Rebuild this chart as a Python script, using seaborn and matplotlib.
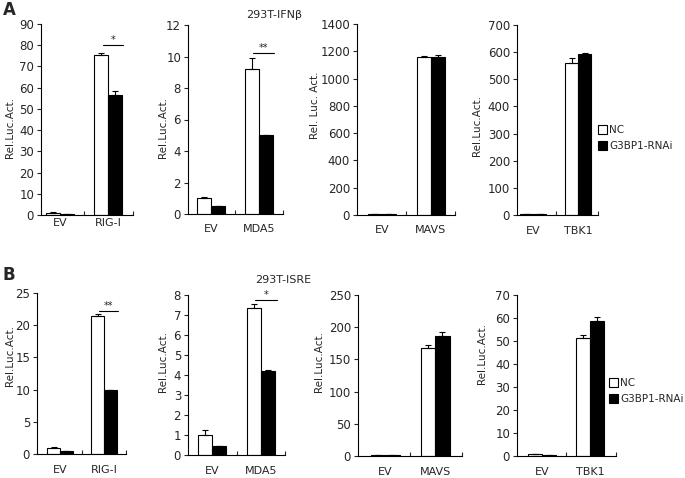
import pandas as pd
import matplotlib.pyplot as plt
import seaborn as sns

# Werte
groups = ['NC', 'G3BP1-RNAi']

# 293T-IFNb
ifnb_constructs = ['RIG-I', 'MDA5', 'MAVS', 'TBK1']
ifnb_nc = [[1.0, 75.5], [1.0, 9.2], [5.0, 1160.0], [3.0, 560.0]]
ifnb_rnai = [[0.5, 56.5], [0.5, 5.0], [4.0, 1155.0], [2.0, 592.0]]
ifnb_nc_err = [[0.3, 1.0], [0.05, 0.7], [1.0, 5.0], [1.0, 18.0]]
ifnb_rnai_err = [[0.1, 2.0], [0.02, 0.02], [1.0, 15.0], [1.0, 4.0]]
ifnb_ymax = [90, 12, 1400, 700]
ifnb_ystep = [10, 2, 200, 100]
ifnb_sig = [('*', 80.0), ('**', 10.2), None, None]

# 293T-ISRE
isre_constructs = ['RIG-I', 'MDA5', 'MAVS', 'TBK1']
isre_nc = [[1.0, 21.5], [1.0, 7.35], [1.0, 167.0], [0.8, 51.5]]
isre_rnai = [[0.45, 9.9], [0.45, 4.2], [0.8, 186.0], [0.3, 58.5]]
isre_nc_err = [[0.15, 0.25], [0.25, 0.2], [0.2, 6.0], [0.2, 1.2]]
isre_rnai_err = [[0.02, 0.02], [0.02, 0.04], [0.2, 6.0], [0.1, 2.0]]
isre_ymax = [25, 8, 250, 70]
isre_ystep = [5, 1, 50, 10]
isre_sig = [('**', 22.2), ('*', 7.75), None, None]

W, H = 685, 478

# Layout in Pixel: (links, rechts, oben, unten, xmin, xmax, ylabel_x, ylabel_y, xpad)
layout_a = [
    (41, 133, 24, 215, -0.40, 1.52, 10, 128, 2),
    (188, 283, 25, 214, -0.48, 1.50, 163, 128, 7),
    (357, 455, 24, 215, -0.51, 1.49, 315, 105, 7),
    (517, 598, 25, 215, -0.36, 1.44, 477, 125, 8),
]
layout_b = [
    (37, 126, 293, 454, -0.52, 1.50, 10, 356, 8),
    (188, 285, 295, 455, -0.49, 1.49, 163, 362, 8),
    (358, 462, 295, 456, -0.54, 1.54, 319, 362, 8),
    (517, 616, 295, 456, -0.52, 1.54, 482, 354, 8),
]

sns.set_style('ticks')
plt.rcParams['font.family'] = ['DejaVu Sans']

fig = plt.figure(figsize=(W / 100, H / 100), dpi=100)


def draw_panel(box, construct, nc, rnai, nc_err, rnai_err, ymax, ystep, sig,
               ylabel, legend_pos=None):
    l, r, t, b, xmin, xmax, lx, ly, xpad = box
    ax = fig.add_axes([l / W, 1 - b / H, (r - l) / W, (b - t) / H])
    df = pd.DataFrame({
        'Konstrukt': ['EV', construct] * 2,
        'Gruppe': ['NC', 'NC', 'G3BP1-RNAi', 'G3BP1-RNAi'],
        'Wert': nc + rnai,
    })
    sns.barplot(data=df, x='Konstrukt', y='Wert', hue='Gruppe',
                order=['EV', construct], hue_order=groups,
                palette={'NC': 'white', 'G3BP1-RNAi': 'black'},
                edgecolor='black', linewidth=0.8, width=0.58,
                errorbar=None, legend=legend_pos is not None, ax=ax)
    # Fehlerbalken nur nach oben
    for cont, errs in zip(ax.containers, [nc_err, rnai_err]):
        for bar, e in zip(cont, errs):
            xc = bar.get_x() + bar.get_width() / 2
            ax.errorbar(xc, bar.get_height(), yerr=[[0], [e]], color='black',
                        capsize=2.5, elinewidth=0.8, capthick=0.8, fmt='none')
    if sig is not None:
        star, yv = sig
        bw = ax.containers[0][1].get_width()
        x0 = 1 - bw * 0.4
        x1 = 1 + bw * 1.1
        ax.plot([x0, x1], [yv, yv], color='black', lw=0.8)
        ax.text((x0 + x1) / 2, yv, star, ha='center', va='bottom', fontsize=7)

    ax.set_xlim(xmin, xmax)
    ax.set_ylim(0, ymax)
    ax.set_yticks(range(0, ymax + 1, ystep))
    ax.set_xticks([0, 1])
    ax.set_xticklabels(['EV', construct], fontsize=8)
    ax.set_xticks([0.5, xmax], minor=True)
    ax.tick_params(axis='x', which='major', length=0, pad=xpad)
    ax.tick_params(axis='x', which='minor', direction='in', length=3, width=0.8)
    ax.tick_params(axis='y', direction='out', length=3, width=0.8, labelsize=8.5, pad=2)
    ax.set_xlabel('')
    ax.set_ylabel('')
    for s in ['top', 'right']:
        ax.spines[s].set_visible(False)
    for s in ['left', 'bottom']:
        ax.spines[s].set_linewidth(0.8)
        ax.spines[s].set_color('black')
    fig.text(lx / W, 1 - ly / H, ylabel, rotation=90, ha='center', va='center', fontsize=7.5)
    if legend_pos is not None:
        handles, labels = ax.get_legend_handles_labels()
        ax.legend(handles, labels, loc='center left', frameon=False,
                  bbox_to_anchor=(legend_pos[0] / W, 1 - legend_pos[1] / H),
                  bbox_transform=fig.transFigure, fontsize=7.5,
                  handlelength=0.8, handleheight=1.0, handletextpad=0.25,
                  labelspacing=0.6, borderaxespad=0)
    return ax


for i in range(4):
    lab = 'Rel. Luc. Act.' if i == 2 else 'Rel.Luc.Act.'
    draw_panel(layout_a[i], ifnb_constructs[i], ifnb_nc[i], ifnb_rnai[i],
               ifnb_nc_err[i], ifnb_rnai_err[i], ifnb_ymax[i], ifnb_ystep[i],
               ifnb_sig[i], lab, legend_pos=(594, 138) if i == 3 else None)
    draw_panel(layout_b[i], isre_constructs[i], isre_nc[i], isre_rnai[i],
               isre_nc_err[i], isre_rnai_err[i], isre_ymax[i], isre_ystep[i],
               isre_sig[i], 'Rel.Luc.Act.', legend_pos=(605, 391) if i == 3 else None)

fig.text(274 / W, 1 - 15 / H, '293T-IFNβ', ha='center', va='center', fontsize=8)
fig.text(283 / W, 1 - 280 / H, '293T-ISRE', ha='center', va='center', fontsize=8)
fig.text(3 / W, 1 - 10 / H, 'A', ha='left', va='center', fontsize=12, fontweight='bold')
fig.text(3 / W, 1 - 275 / H, 'B', ha='left', va='center', fontsize=12, fontweight='bold')

fig.savefig('out.png', dpi=100)
plt.close(fig)
